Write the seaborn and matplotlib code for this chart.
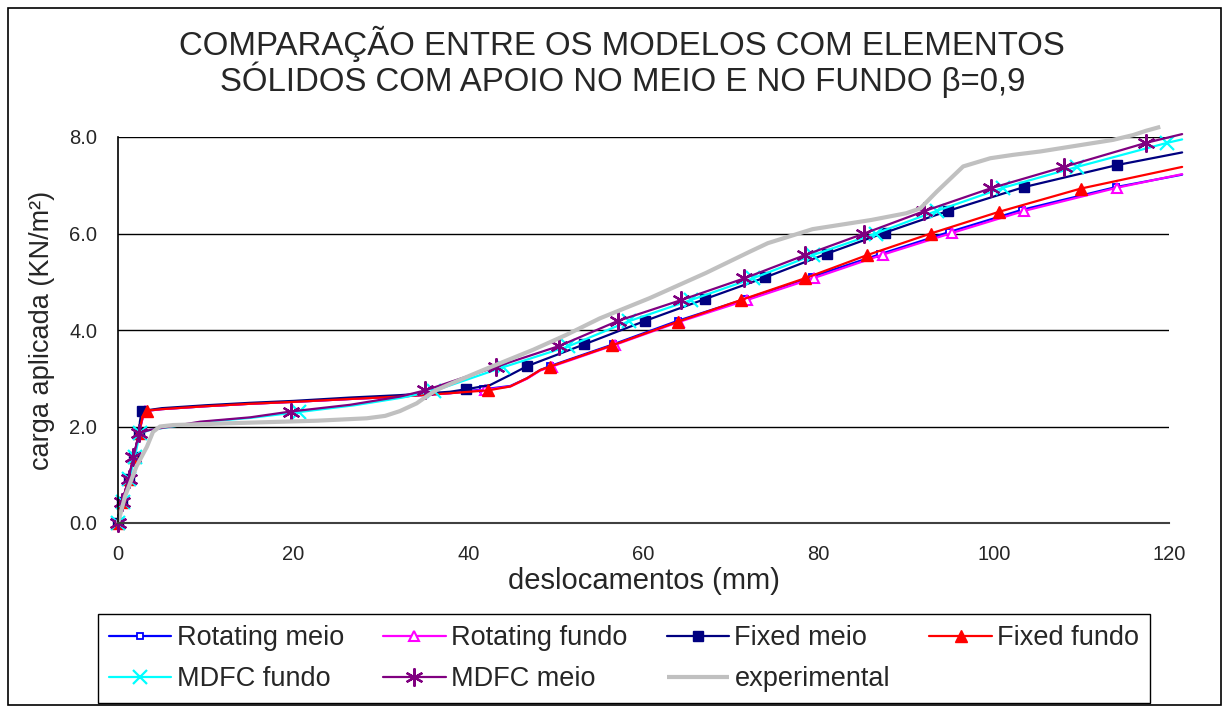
import matplotlib
matplotlib.use("Agg")
import matplotlib.pyplot as plt
import seaborn as sns
from matplotlib import font_manager
from matplotlib.patches import Rectangle

# ---- data: deslocamentos (mm) x carga aplicada (KN/m2) ----
rot_meio_x = [0, 0.5, 1.2, 1.8, 2.4, 2.7, 3.0, 5, 10, 15, 20, 26.5, 32.2, 37.9, 41.7, 44.8, 46.7, 48.2, 49.3,
              56.5, 63.9, 71.6, 79.2, 87.0, 94.9, 103.2, 113.9, 121.5]
rot_meio_y = [0, 0.44, 0.91, 1.36, 1.86, 2.1, 2.32, 2.36, 2.42, 2.47, 2.51, 2.57, 2.62, 2.69, 2.77, 2.84, 3.0, 3.17, 3.25,
              3.70, 4.19, 4.64, 5.10, 5.57, 6.03, 6.49, 6.96, 7.22]
rot_meio_mk = [0, 1, 2, 3, 4, 6, 14, 18, 19, 20, 21, 22, 23, 24, 25, 26]

rot_fundo_x = [0, 0.5, 1.2, 1.8, 2.4, 2.7, 3.1, 5, 10, 15, 20, 26.5, 32.2, 37.9, 41.9, 44.8, 46.7, 48.2, 49.5,
               56.7, 64.1, 71.8, 79.5, 87.3, 95.2, 103.5, 114.1, 121.5]
rot_fundo_y = [0, 0.44, 0.91, 1.36, 1.86, 2.1, 2.32, 2.36, 2.42, 2.47, 2.51, 2.57, 2.62, 2.69, 2.76, 2.83, 2.99, 3.16, 3.24,
               3.69, 4.17, 4.62, 5.08, 5.56, 6.01, 6.47, 6.95, 7.23]
rot_fundo_mk = [0, 1, 2, 3, 4, 6, 14, 18, 19, 20, 21, 22, 23, 24, 25, 26]

fix_meio_x = [0, 0.5, 1.2, 1.8, 2.4, 2.5, 2.7, 5, 10, 15, 20, 26.5, 32.2, 37.9, 39.7, 42.5, 44.8, 46.7,
              53.2, 60.2, 67.0, 73.9, 80.9, 87.6, 94.8, 103.4, 114.1, 121.5]
fix_meio_y = [0, 0.44, 0.91, 1.36, 1.86, 2.1, 2.32, 2.38, 2.44, 2.49, 2.53, 2.60, 2.65, 2.72, 2.77, 2.86, 3.07, 3.25,
              3.70, 4.19, 4.64, 5.09, 5.58, 6.02, 6.47, 6.96, 7.42, 7.68]
fix_meio_mk = [0, 1, 2, 3, 4, 6, 14, 17, 18, 19, 20, 21, 22, 23, 24, 25, 26]

fix_fundo_x = [0, 0.5, 1.2, 1.8, 2.4, 2.8, 3.3, 5, 10, 15, 20, 26.5, 32.2, 37.9, 42.3, 44.8, 46.7, 48.2, 49.3,
               56.4, 63.9, 71.1, 78.4, 85.5, 92.8, 100.6, 109.9, 121.5]
fix_fundo_y = [0, 0.44, 0.91, 1.36, 1.86, 2.2, 2.33, 2.36, 2.42, 2.47, 2.51, 2.57, 2.62, 2.69, 2.75, 2.83, 3.0, 3.17, 3.24,
               3.68, 4.17, 4.62, 5.07, 5.55, 6.00, 6.45, 6.93, 7.38]
fix_fundo_mk = [0, 1, 2, 3, 4, 6, 14, 18, 19, 20, 21, 22, 23, 24, 25, 26]

mdfc_fundo_x = [0, 0.6, 1.3, 1.9, 2.5, 3.7, 9.5, 15.2, 20.7, 27, 32.5, 36.1, 44.0, 51.4, 58.3, 65.4, 72.5, 79.3,
                86.5, 93.5, 101.1, 109.5, 119.8, 121.5]
mdfc_fundo_y = [0, 0.44, 0.91, 1.36, 1.86, 1.93, 2.09, 2.18, 2.30, 2.44, 2.60, 2.74, 3.23, 3.66, 4.18, 4.62, 5.07, 5.55,
                6.00, 6.47, 6.95, 7.38, 7.88, 7.95]
mdfc_fundo_mk = [0, 1, 2, 3, 4, 8, 11, 12, 13, 14, 15, 16, 17, 18, 19, 20, 21, 22]

mdfc_meio_x = [0, 0.5, 1.2, 1.75, 2.4, 3.65, 9.4, 15.1, 19.7, 26.5, 32.2, 35.1, 43.2, 50.4, 57.1, 64.3, 71.5, 78.4,
               85.2, 92.0, 99.7, 108.0, 117.4, 121.5]
mdfc_meio_y = [0, 0.44, 0.91, 1.36, 1.86, 1.93, 2.10, 2.19, 2.31, 2.45, 2.62, 2.75, 3.24, 3.67, 4.19, 4.62, 5.07, 5.55,
               6.00, 6.46, 6.94, 7.38, 7.88, 8.06]
mdfc_meio_mk = [0, 1, 2, 3, 4, 8, 11, 12, 13, 14, 15, 16, 17, 18, 19, 20, 21, 22]

exp_x = [0, 0.8, 2.1, 3.3, 4.0, 4.8, 6.3, 15.1, 22.7, 28.4, 30.5, 32.2, 34.1, 35.2, 36.4, 37.9, 41.7, 47.4, 51.2,
         55.0, 60.7, 67.1, 72.1, 74.2, 79.3, 86.0, 90.0, 91.6, 93.5, 96.5, 99.6, 102.2, 105.3, 109.8, 113.6, 115.9,
         117.4, 119.0]
exp_y = [0, 0.55, 1.17, 1.58, 1.89, 2.0, 2.03, 2.08, 2.12, 2.17, 2.22, 2.32, 2.48, 2.62, 2.76, 2.88, 3.17, 3.59, 3.9,
         4.24, 4.66, 5.18, 5.62, 5.80, 6.09, 6.28, 6.42, 6.52, 6.87, 7.39, 7.56, 7.63, 7.70, 7.83, 7.94, 8.04,
         8.13, 8.21]

series_names = ["Rotating meio", "Rotating fundo", "Fixed meio", "Fixed fundo",
                "MDFC fundo", "MDFC meio", "experimental"]
x_ticks = [0, 20, 40, 60, 80, 100, 120]
x_tick_labels = ["0", "20", "40", "60", "80", "100", "120"]
y_ticks = [0, 2, 4, 6, 8]
y_tick_labels = ["0.0", "2.0", "4.0", "6.0", "8.0"]

title_l1 = "COMPARAÇÃO ENTRE OS MODELOS COM ELEMENTOS"
title_l2 = "SÓLIDOS COM APOIO NO MEIO E NO FUNDO β=0,9"
x_label = "deslocamentos (mm)"
y_label = "carga aplicada (KN/m²)"

# ---- style ----
sns.set_style("white")
installed = {f.name for f in font_manager.fontManager.ttflist}
families = [f for f in ["Liberation Sans", "DejaVu Sans"] if f in installed]
plt.rcParams["font.family"] = families

W, H = 1228, 707
fig = plt.figure(figsize=(W / 100, H / 100), dpi=100)
fig.patch.set_facecolor("white")
ax = fig.add_axes([118 / W, 1 - 523 / H, (1169 - 118) / W, (523 - 137) / H])

styles = [
    (rot_meio_x, rot_meio_y, rot_meio_mk, dict(color="#0000FF", marker="s", ms=5, mfc="white", mec="#0000FF", mew=1.3, lw=1.6)),
    (rot_fundo_x, rot_fundo_y, rot_fundo_mk, dict(color="#FF00FF", marker="^", ms=7, mfc="white", mec="#FF00FF", mew=1.5, lw=1.6)),
    (fix_meio_x, fix_meio_y, fix_meio_mk, dict(color="#000080", marker="s", ms=7, mfc="#000080", mec="#000080", mew=1, lw=1.6)),
    (fix_fundo_x, fix_fundo_y, fix_fundo_mk, dict(color="#FF0000", marker="^", ms=9, mfc="#FF0000", mec="#FF0000", mew=1, lw=1.6)),
    (mdfc_fundo_x, mdfc_fundo_y, mdfc_fundo_mk, dict(color="#00FFFF", marker="x", ms=10, mec="#00FFFF", mew=1.6, lw=1.6)),
    (mdfc_meio_x, mdfc_meio_y, mdfc_meio_mk, dict(color="#800080", marker=(6, 2, 0), ms=13, mec="#800080", mew=1.6, lw=1.6)),
    (exp_x, exp_y, None, dict(color="#C0C0C0", lw=3.0, solid_capstyle="butt")),
]

for (xs, ys, mk, kw), name in zip(styles, series_names):
    extra = {"markevery": mk} if mk is not None else {}
    sns.lineplot(x=xs, y=ys, ax=ax, sort=False, estimator=None, label=name,
                 clip_on=False, **kw, **extra)

if ax.get_legend() is not None:
    ax.get_legend().remove()

ax.set_xlim(0, 120)
ax.set_ylim(0, 8)
ax.set_xticks(x_ticks, x_tick_labels)
ax.set_yticks(y_ticks, y_tick_labels)
ax.yaxis.grid(True, color="black", lw=1.0)
ax.xaxis.grid(False)
ax.set_axisbelow(True)
for s in ["top", "right"]:
    ax.spines[s].set_visible(False)
ax.spines["left"].set_color("black")
ax.spines["left"].set_linewidth(1.2)
ax.spines["bottom"].set_color("#404040")
ax.spines["bottom"].set_linewidth(1.5)
ax.tick_params(axis="both", direction="out", length=6, width=1, color="black", labelsize=14.5)
ax.tick_params(axis="x", pad=10)
ax.tick_params(axis="y", pad=9)

ax.set_xlabel(x_label, fontsize=21)
ax.xaxis.set_label_coords(0.5, (523 - 581) / (523 - 137))
ax.xaxis.label.set_va("center")
ax.set_ylabel(y_label, fontsize=19.5)
ax.yaxis.set_label_coords((42 - 118) / (1169 - 118), 0.5)
ax.yaxis.label.set_va("center")

fig.text(621.5 / W, 1 - 55 / H, title_l1, ha="center", va="baseline", fontsize=23.8)
fig.text(623 / W, 1 - 91 / H, title_l2, ha="center", va="baseline", fontsize=23.8)

# legend laid out row by row (matplotlib fills columns first)
handles = ax.get_lines()[:7]
order = [0, 4, 1, 5, 2, 6, 3]
fig.legend([handles[i] for i in order], [series_names[i] for i in order],
           loc="lower left", bbox_to_anchor=(98 / W, 1 - 703 / H, 1052 / W, 90 / H),
           mode="expand", ncol=4, frameon=True, fancybox=False, edgecolor="black",
           framealpha=1, borderaxespad=0, handlelength=2.3, handletextpad=0.2,
           fontsize=19.5, labelspacing=0.55, borderpad=0.4)

# outer chart border
fig.add_artist(Rectangle((8 / W, 2 / H), (1221 - 8) / W, (699 - 2) / H, transform=fig.transFigure,
                         fill=False, edgecolor="black", lw=1.2))

fig.savefig("out.png", dpi=100)
